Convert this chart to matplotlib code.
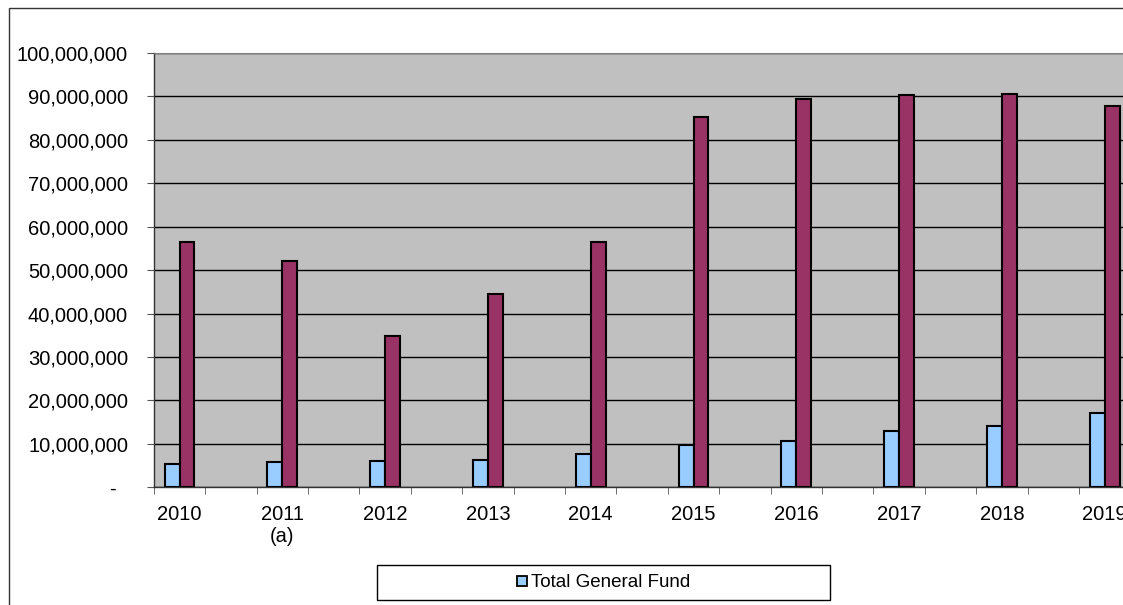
import matplotlib
matplotlib.use("Agg")
import matplotlib.pyplot as plt
from matplotlib.lines import Line2D
from matplotlib.patches import Rectangle
from matplotlib.ticker import FuncFormatter, MultipleLocator

plt.rcParams["font.family"] = ["Liberation Sans", "DejaVu Sans"]

# Fiscal years shown on the category axis
years = ["2010", "2011\n(a)", "2012", "2013", "2014", "2015", "2016", "2017", "2018", "2019"]

# Total General Fund (light blue bars)
general_fund = [5.3e6, 5.8e6, 6.1e6, 6.3e6, 7.6e6, 9.7e6, 10.7e6, 13.0e6, 14.2e6, 17.0e6]

# Companion series (maroon bars)
second_series = [56.4e6, 52.0e6, 34.9e6, 44.5e6, 56.5e6, 85.3e6, 89.5e6, 90.4e6, 90.6e6, 87.7e6]

W, H = 1123, 605
fig = plt.figure(figsize=(W / 100, H / 100), dpi=100)
fig.patch.set_facecolor("white")

# outer chart border (runs off the right and bottom edges)
fig.add_artist(Rectangle((9 / W, -0.2), 1.5, 1.2 - 8 / H, transform=fig.transFigure,
                         fill=False, edgecolor="#333333", linewidth=1.0))

left, right = 153.8, 153.8 + 20 * 51.4
top, bottom = 53.0, 487.3
ax = fig.add_axes([left / W, 1 - bottom / H, (right - left) / W, (bottom - top) / H])
ax.set_facecolor("#C0C0C0")

slots = [2 * i for i in range(len(years))]
bw = 0.29
ax.bar([s - bw / 2 for s in slots], general_fund, width=bw, color="#99CCFF",
       edgecolor="black", linewidth=1.5, zorder=3)
ax.bar([s + bw / 2 for s in slots], second_series, width=bw, color="#993366",
       edgecolor="black", linewidth=1.5, zorder=3)

ax.set_xlim(-0.5, 19.5)
ax.set_ylim(0, 100e6)

ax.yaxis.set_major_locator(MultipleLocator(10e6))
ax.yaxis.set_major_formatter(FuncFormatter(lambda v, p: "-  " if v == 0 else f"{v:,.0f}"))
ax.grid(axis="y", color="black", linewidth=1.0, zorder=1)
ax.set_axisbelow(True)

ax.set_xticks(slots)
ax.set_xticklabels(years)
ax.set_xticks([s - 0.5 for s in range(21)], minor=True)
ax.tick_params(axis="x", which="major", length=0, pad=13, labelsize=14.5)
ax.tick_params(axis="x", which="minor", length=5, color="#555555", direction="out")
ax.tick_params(axis="y", length=5, color="#555555", direction="out", pad=13.5, labelsize=14.5)

for side in ("left", "bottom"):
    ax.spines[side].set_color("#333333")
    ax.spines[side].set_linewidth(1.0)
ax.spines["top"].set_color("#808080")
ax.spines["right"].set_visible(False)

# legend box
lx0, lx1, ly0, ly1 = 377, 830, 565, 600
fig.add_artist(Rectangle((lx0 / W, 1 - ly1 / H), (lx1 - lx0) / W, (ly1 - ly0) / H,
                         transform=fig.transFigure, fill=True, facecolor="white",
                         edgecolor="black", linewidth=1.0))
handle = Line2D([], [], linestyle="", marker="s", markersize=7,
                markerfacecolor="#99CCFF", markeredgecolor="black", markeredgewidth=1.3)
fig.legend([handle], ["Total General Fund"], loc="center",
           bbox_to_anchor=((lx0 + lx1) / 2 / W, 1 - (ly0 + ly1) / 2 / H),
           frameon=False, fontsize=13.5, handlelength=0.6,
           handletextpad=0.15, borderpad=0)

fig.savefig("out.png", dpi=100)
